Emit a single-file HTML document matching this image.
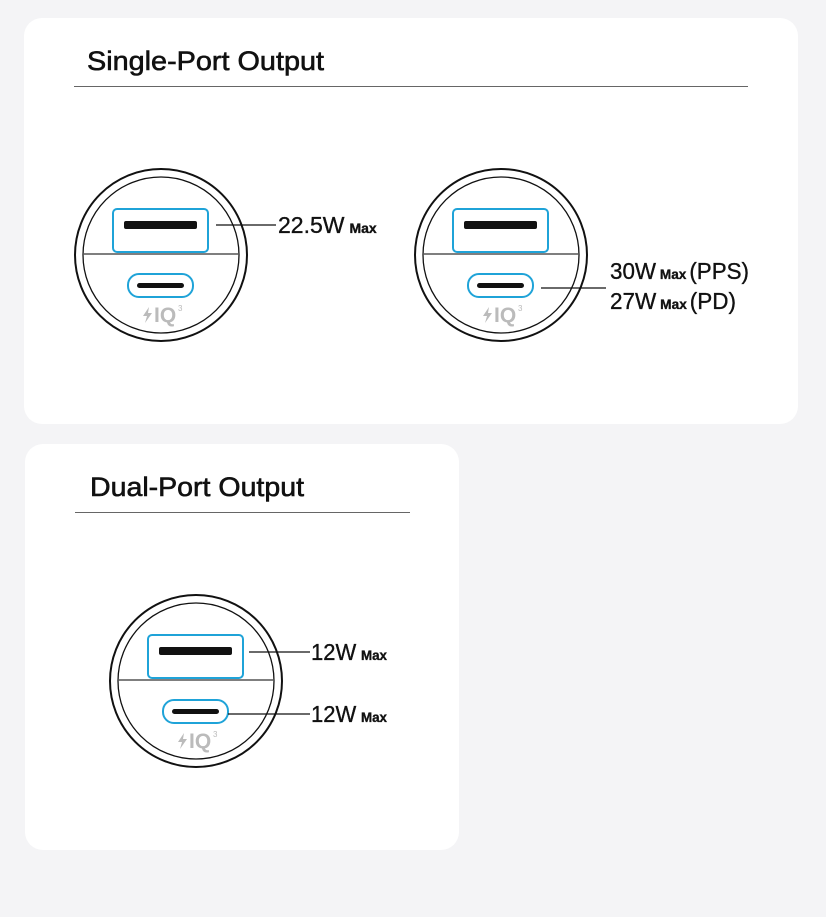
<!DOCTYPE html>
<html><head><meta charset="utf-8"><style>
html,body{margin:0;padding:0;background:#f4f4f6;}
svg{display:block;}
text{font-family:"Liberation Sans",sans-serif;}
.t{stroke:#111;stroke-width:0.6;}
.l{stroke:#111;stroke-width:0.35;}
</style></head><body>
<svg width="826" height="917" viewBox="0 0 826 917" xmlns="http://www.w3.org/2000/svg">
<defs>
<g id="chg">
  <circle cx="0" cy="0" r="86" fill="#fff" stroke="#111" stroke-width="2"/>
  <circle cx="0" cy="0" r="78" fill="none" stroke="#111" stroke-width="1.3"/>
  <line x1="-78" y1="-1" x2="78" y2="-1" stroke="#555" stroke-width="1.5"/>
  <rect x="-48" y="-46" width="95" height="43" rx="4" fill="#fff" stroke="#1fa3d8" stroke-width="2"/>
  <rect x="-37" y="-34" width="73" height="8" rx="2" fill="#111"/>
  <rect x="-33" y="19" width="65" height="23" rx="11" fill="#fff" stroke="#1fa3d8" stroke-width="2"/>
  <rect x="-24" y="28" width="47" height="5" rx="2.5" fill="#111"/>
  <polygon points="-12,52 -18,61 -14,61 -16,68 -9,58 -13,58" fill="#bbb"/>
  <text x="-7" y="67" font-size="21" fill="#bbb" font-weight="bold">IQ</text>
  <text x="17" y="56" font-size="8" fill="#bbb">3</text>
</g>
</defs>
<rect x="24" y="18" width="774" height="406" rx="18" fill="#fff"/>
<rect x="25" y="444" width="434" height="406" rx="18" fill="#fff"/>

<text class="t" x="87" y="70" font-size="27" fill="#111" textLength="237" lengthAdjust="spacingAndGlyphs">Single-Port Output</text>
<line x1="74" y1="86.5" x2="748" y2="86.5" stroke="#666" stroke-width="1"/>
<text class="t" x="90" y="496" font-size="27" fill="#111" textLength="214" lengthAdjust="spacingAndGlyphs">Dual-Port Output</text>
<line x1="75" y1="512.5" x2="410" y2="512.5" stroke="#666" stroke-width="1"/>

<use href="#chg" x="161" y="255"/>
<use href="#chg" x="501" y="255"/>
<use href="#chg" x="196" y="681"/>

<line x1="216" y1="225" x2="276" y2="225" stroke="#111" stroke-width="1.3"/>
<text class="l" x="278" y="233" font-size="23" fill="#111">22.5W<tspan font-size="14" dx="5" font-weight="bold">Max</tspan></text>

<line x1="541" y1="288" x2="606" y2="288" stroke="#111" stroke-width="1.3"/>
<text class="l" x="610" y="279" font-size="23" fill="#111" textLength="139" lengthAdjust="spacingAndGlyphs">30W<tspan font-size="14" dx="4" font-weight="bold">Max</tspan><tspan dx="3">(PPS)</tspan></text>
<text class="l" x="610" y="309" font-size="23" fill="#111" textLength="126" lengthAdjust="spacingAndGlyphs">27W<tspan font-size="14" dx="4" font-weight="bold">Max</tspan><tspan dx="3">(PD)</tspan></text>

<line x1="249" y1="652" x2="310" y2="652" stroke="#111" stroke-width="1.3"/>
<text class="l" x="311" y="660" font-size="23" fill="#111" textLength="76" lengthAdjust="spacingAndGlyphs">12W<tspan font-size="14" dx="5" font-weight="bold">Max</tspan></text>
<line x1="228" y1="714" x2="310" y2="714" stroke="#111" stroke-width="1.3"/>
<text class="l" x="311" y="722" font-size="23" fill="#111" textLength="76" lengthAdjust="spacingAndGlyphs">12W<tspan font-size="14" dx="5" font-weight="bold">Max</tspan></text>
</svg>
</body></html>
